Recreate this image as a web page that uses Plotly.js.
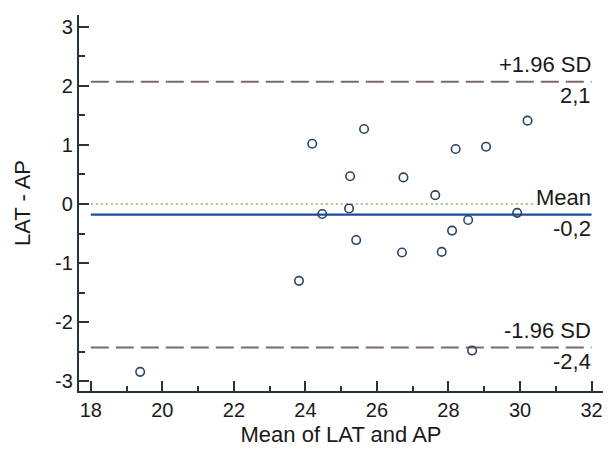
<!DOCTYPE html>
<html>
<head>
<meta charset="utf-8">
<script src="https://cdn.plot.ly/plotly-3.0.1.min.js"></script>
<style>
  html, body { margin: 0; padding: 0; background: #fff; }
  #chart { width: 615px; height: 450px; }
</style>
</head>
<body>
<div id="chart"></div>
<script>
// Mean of LAT and AP (x) and LAT - AP difference (y)
const meanValues = [24.19, 25.64, 30.21, 28.20, 29.05, 25.25, 26.74, 27.63, 24.47, 25.22,
                    29.92, 28.55, 28.10, 25.42, 26.70, 27.81, 23.82, 28.66, 19.38];
const diffValues = [1.02, 1.27, 1.41, 0.93, 0.97, 0.47, 0.45, 0.15, -0.17, -0.075,
                    -0.15, -0.27, -0.45, -0.61, -0.82, -0.81, -1.30, -2.48, -2.84];

// Reference lines
const meanDiff = -0.18;
const upperLoA = 2.07;
const lowerLoA = -2.43;
const lineSpan = [18, 32];

// Labels
const upperLabel = "+1.96 SD", upperValueLabel = "2,1";
const meanLabel = "Mean", meanValueLabel = "-0,2";
const lowerLabel = "-1.96 SD", lowerValueLabel = "-2,4";

const xTicks = [18, 20, 22, 24, 26, 28, 30, 32];
const yTicks = [-3, -2, -1, 0, 1, 2, 3];

const FONT = "Liberation Sans, Arial, sans-serif";
const AXIS_COLOR = "#27343a";
const DASH_COLOR = "#7b6a68";
const TEXT_COLOR = "#1a1a1a";

const traces = [
  { x: lineSpan, y: [0, 0], mode: "lines", hoverinfo: "skip",
    line: { color: "#a3a466", width: 1.5, dash: "2px,3px" } },
  { x: lineSpan, y: [upperLoA, upperLoA], mode: "lines", hoverinfo: "skip",
    line: { color: DASH_COLOR, width: 2, dash: "18px,7px" } },
  { x: lineSpan, y: [lowerLoA, lowerLoA], mode: "lines", hoverinfo: "skip",
    line: { color: DASH_COLOR, width: 2, dash: "18px,7px" } },
  { x: lineSpan, y: [meanDiff, meanDiff], mode: "lines", hoverinfo: "skip",
    line: { color: "#1f4b9c", width: 2.2 } },
  { x: meanValues, y: diffValues, mode: "markers",
    marker: { symbol: "circle-open", size: 8.5, color: "#2c4560", line: { width: 1.6, color: "#2c4560" } } }
];

function ann(text, y, above, bg) {
  return {
    xref: "x", yref: "y", x: 32, y: y, text: text, showarrow: false,
    xanchor: "right", yanchor: above ? "bottom" : "top",
    xshift: 0, yshift: above ? 4 : 0,
    font: { family: FONT, size: 22, color: TEXT_COLOR },
    bgcolor: bg ? "#ffffff" : "rgba(0,0,0,0)", borderpad: 0
  };
}

const layout = {
  width: 615, height: 450,
  margin: { l: 79, r: 12, t: 15, b: 59 },
  paper_bgcolor: "#ffffff", plot_bgcolor: "#ffffff",
  showlegend: false,
  font: { family: FONT, size: 20, color: TEXT_COLOR },
  xaxis: {
    range: [17.67, 32.32], tickvals: xTicks, ticktext: xTicks.map(String),
    ticks: "inside", ticklen: 10, tickwidth: 2, tickcolor: AXIS_COLOR,
    minor: { dtick: 1, tick0: 18, ticks: "inside", ticklen: 5.5, tickwidth: 2, tickcolor: AXIS_COLOR, showgrid: false },
    showline: true, linecolor: AXIS_COLOR, linewidth: 2.2,
    showgrid: false, zeroline: false,
    tickfont: { family: FONT, size: 20, color: TEXT_COLOR },
    title: { text: "Mean of LAT and AP", font: { family: FONT, size: 22, color: TEXT_COLOR }, standoff: 6 }
  },
  yaxis: {
    range: [-3.164, 3.198], tickvals: yTicks, ticktext: yTicks.map(String),
    ticks: "inside", ticklen: 10, tickwidth: 2, tickcolor: AXIS_COLOR,
    minor: { dtick: 0.5, tick0: 0, ticks: "inside", ticklen: 5.5, tickwidth: 2, tickcolor: AXIS_COLOR, showgrid: false },
    showline: true, linecolor: AXIS_COLOR, linewidth: 2.2,
    showgrid: false, zeroline: false,
    tickfont: { family: FONT, size: 20, color: TEXT_COLOR },
    title: { text: "LAT - AP", font: { family: FONT, size: 22, color: TEXT_COLOR }, standoff: 18 }
  },
  annotations: [
    ann(upperLabel, upperLoA, true, false),
    ann(upperValueLabel, upperLoA, false, false),
    ann(meanLabel, meanDiff, true, true),
    ann(meanValueLabel, meanDiff, false, false),
    ann(lowerLabel, lowerLoA, true, false),
    ann(lowerValueLabel, lowerLoA, false, false)
  ]
};

Plotly.newPlot("chart", traces, layout, { displayModeBar: false, staticPlot: true });
</script>
</body>
</html>
